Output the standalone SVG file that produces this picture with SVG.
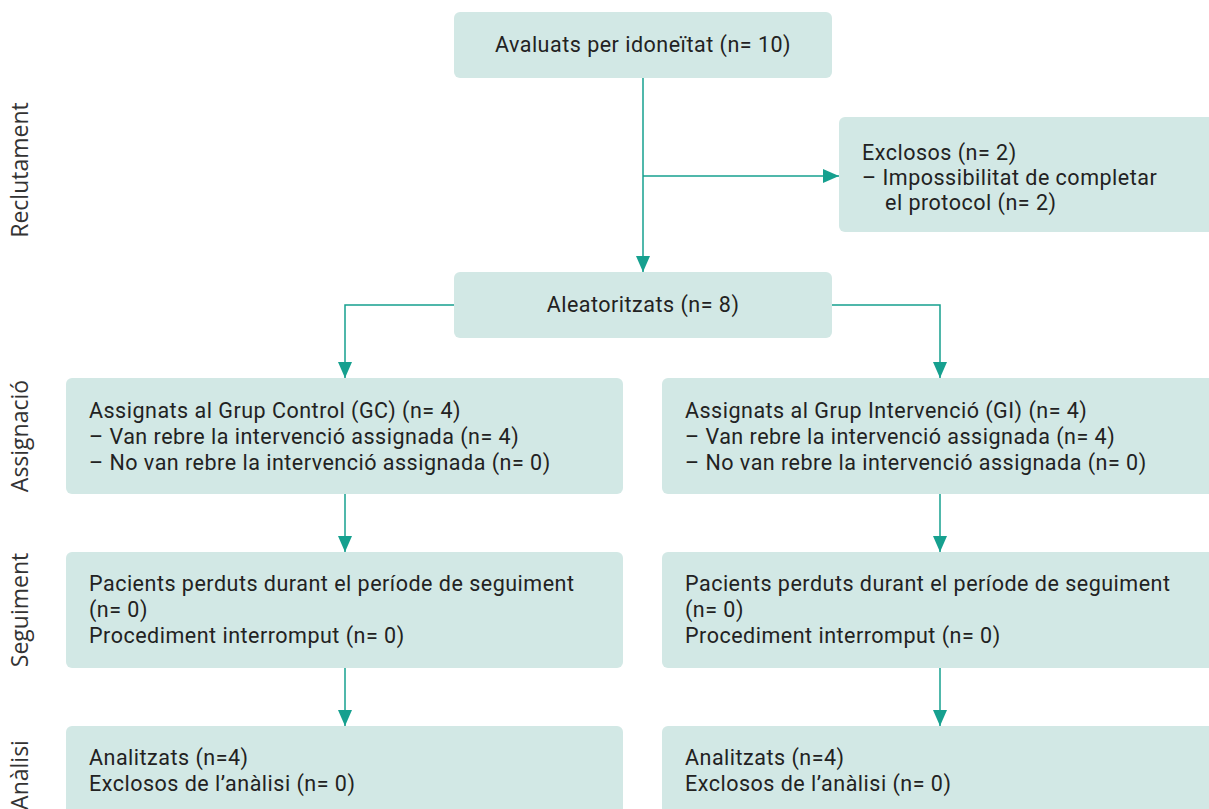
<svg xmlns="http://www.w3.org/2000/svg" width="1209" height="809" viewBox="0 0 1209 809">
<style>
.box{fill:#d2e8e5;}
.t{font-family:"Roboto","Liberation Sans",sans-serif;font-size:21.5px;letter-spacing:0.5px;fill:#222;}
.side{font-family:"Open Sans","DejaVu Sans",sans-serif;font-size:23px;fill:#333;}
.c{fill:none;stroke:#16a08f;stroke-width:1.5;}
</style>
<defs>
<marker id="ah" markerWidth="16" markerHeight="14" refX="16" refY="7" orient="auto" markerUnits="userSpaceOnUse">
<path d="M0,0 L16,7 L0,14 Z" fill="#16a08f"/>
</marker>
</defs>
<rect width="1209" height="809" fill="#fff"/>
<g id="side-labels">
<text class="side" transform="translate(28,170) rotate(-90)" text-anchor="middle">Reclutament</text>
<text class="side" transform="translate(28,436) rotate(-90)" text-anchor="middle">Assignació</text>
<text class="side" transform="translate(28,610) rotate(-90)" text-anchor="middle">Seguiment</text>
<text class="side" transform="translate(28,775) rotate(-90)" text-anchor="middle">Anàlisi</text>
</g>
<g id="connectors">
<path class="c" d="M643,78 V272" marker-end="url(#ah)"/>
<path class="c" d="M643,176 H839" marker-end="url(#ah)"/>
<path class="c" d="M454,305 H345 V378" marker-end="url(#ah)"/>
<path class="c" d="M832,305 H940 V378" marker-end="url(#ah)"/>
<path class="c" d="M345,494 V552" marker-end="url(#ah)"/>
<path class="c" d="M940,494 V552" marker-end="url(#ah)"/>
<path class="c" d="M345,668 V726" marker-end="url(#ah)"/>
<path class="c" d="M940,668 V726" marker-end="url(#ah)"/>
</g>
<g id="avaluats">
<rect class="box" x="454" y="12" width="378" height="66" rx="6"/>
<text class="t" x="643" y="52" text-anchor="middle">Avaluats per idoneïtat (n= 10)</text>
</g>
<g id="exclosos">
<rect class="box" x="839" y="117" width="380" height="115" rx="6"/>
<text class="t" x="862" y="160">Exclosos (n= 2)</text>
<text class="t" x="862" y="185">–  Impossibilitat de completar</text>
<text class="t" x="885" y="210">el protocol (n= 2)</text>
</g>
<g id="aleatoritzats">
<rect class="box" x="454" y="272" width="378" height="66" rx="6"/>
<text class="t" x="643" y="312" text-anchor="middle">Aleatoritzats (n= 8)</text>
</g>
<g id="assign-gc">
<rect class="box" x="66" y="378" width="557" height="116" rx="6"/>
<text class="t" x="89" y="418">Assignats al Grup Control (GC) (n= 4)</text>
<text class="t" x="89" y="444">–  Van rebre la intervenció assignada (n= 4)</text>
<text class="t" x="89" y="470">–  No van rebre la intervenció assignada (n= 0)</text>
</g>
<g id="assign-gi">
<rect class="box" x="662" y="378" width="557" height="116" rx="6"/>
<text class="t" x="685" y="418">Assignats al Grup Intervenció (GI) (n= 4)</text>
<text class="t" x="685" y="444">–  Van rebre la intervenció assignada (n= 4)</text>
<text class="t" x="685" y="470">–  No van rebre la intervenció assignada (n= 0)</text>
</g>
<g id="seg-gc">
<rect class="box" x="66" y="552" width="557" height="116" rx="6"/>
<text class="t" x="89" y="591">Pacients perduts durant el període de seguiment</text>
<text class="t" x="89" y="617">(n= 0)</text>
<text class="t" x="89" y="643">Procediment interromput (n= 0)</text>
</g>
<g id="seg-gi">
<rect class="box" x="662" y="552" width="557" height="116" rx="6"/>
<text class="t" x="685" y="591">Pacients perduts durant el període de seguiment</text>
<text class="t" x="685" y="617">(n= 0)</text>
<text class="t" x="685" y="643">Procediment interromput (n= 0)</text>
</g>
<g id="anal-gc">
<rect class="box" x="66" y="726" width="557" height="100" rx="6"/>
<text class="t" x="89" y="765">Analitzats (n=4)</text>
<text class="t" x="89" y="791">Exclosos de l’anàlisi (n= 0)</text>
</g>
<g id="anal-gi">
<rect class="box" x="662" y="726" width="557" height="100" rx="6"/>
<text class="t" x="685" y="765">Analitzats (n=4)</text>
<text class="t" x="685" y="791">Exclosos de l’anàlisi (n= 0)</text>
</g>
</svg>
